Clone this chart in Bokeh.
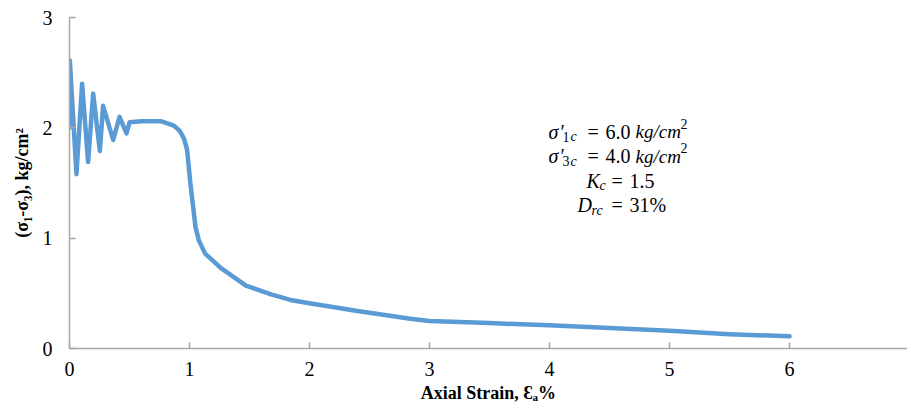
from bokeh.plotting import figure
from bokeh.models import Range1d, FixedTicker, Label, ColumnDataSource
from bokeh.embed import file_html
from bokeh.resources import INLINE

# ---- data ----
strain = [0.0, 0.003, 0.058, 0.105, 0.155, 0.197, 0.253, 0.28, 0.364, 0.417, 0.475,
          0.5, 0.6, 0.76, 0.87, 0.92, 0.955, 0.98, 1.008, 1.05, 1.078, 1.13, 1.26,
          1.47, 1.68, 1.84, 2.0, 2.4, 2.84, 3.0, 3.5, 4.0, 4.5, 5.0, 5.5, 6.0]
stress = [2.0, 2.61, 1.58, 2.40, 1.69, 2.31, 1.79, 2.20, 1.89, 2.10, 1.95,
          2.05, 2.06, 2.06, 2.02, 1.97, 1.90, 1.80, 1.49, 1.10, 0.98, 0.86, 0.73,
          0.57, 0.49, 0.44, 0.41, 0.34, 0.27, 0.25, 0.23, 0.21, 0.185, 0.16, 0.13, 0.11]
x_ticks = [0, 1, 2, 3, 4, 5, 6]
y_ticks = [0, 1, 2, 3]

FONT = "Liberation Serif"
AXIS_COLOR = "#A6A6A6"
LINE_COLOR = "#5B9BD5"

W, H = 907, 413
LEFT, TOP, BOTTOM = 69, 17, 65
X_END = (W - LEFT) / 120.0
Y_END = 3.0

p = figure(width=W, height=H, output_backend="svg", toolbar_location=None,
           x_range=Range1d(0, X_END), y_range=Range1d(0, Y_END),
           min_border_left=LEFT, min_border_right=0, min_border_top=TOP,
           min_border_bottom=BOTTOM)
p.outline_line_color = None
p.xgrid.visible = False
p.ygrid.visible = False
p.background_fill_color = "white"
p.border_fill_color = "white"

p.line(x="x", y="y", source=ColumnDataSource(dict(x=strain, y=stress)),
       line_color=LINE_COLOR, line_width=4.5, line_join="round", line_cap="round")

for ax, ticks in ((p.xaxis[0], x_ticks), (p.yaxis[0], y_ticks)):
    ax.ticker = FixedTicker(ticks=ticks)
    ax.axis_line_color = AXIS_COLOR
    ax.axis_line_width = 1.5
    ax.major_tick_line_color = AXIS_COLOR
    ax.major_tick_line_width = 1.5
    ax.major_tick_in = 6
    ax.major_tick_out = 0
    ax.minor_tick_line_color = None
    ax.major_label_text_font = FONT
    ax.major_label_text_font_size = "20px"
    ax.major_label_text_color = "black"
    ax.axis_label_text_font = FONT
    ax.axis_label_text_font_size = "18px"
    ax.axis_label_text_font_style = "bold"
    ax.axis_label_text_color = "black"

p.xaxis.axis_label = "Axial Strain, Ɛₐ%"
p.yaxis.axis_label = "(σ₁-σ₃), kg/cm²"
p.xaxis.major_label_standoff = 13
p.xaxis.axis_label_standoff = 4
p.yaxis.major_label_standoff = 17
p.yaxis.axis_label_standoff = 8

# helper: pixel position in the frame -> data coordinates
fh = H - TOP - BOTTOM
def dx(px):
    return (px - LEFT) / 120.0
def dy(py):
    return (H - BOTTOM - py) / fh * Y_END

# the cut-off "7" tick label at the right edge
p.add_layout(Label(x=7, y=dy(362), text="7", text_align="center", text_baseline="top",
                   text_font=FONT, text_font_size="20px", text_color="black"))

# annotation block (pieces: text, px, baseline_py, size, italic)
pieces = []
for base, sub, num in ((131, "1", "6.0"), (155.5, "3", "4.0")):
    pieces += [
        ("σ", 548, base, 20, True),
        ("′", 560, base, 20, False),
        (sub, 562, base + 5, 14, False),
        ("c", 570, base + 5, 14, True),
        ("=", 587, base, 20, False),
        (num, 605, base, 20, False),
        ("kg/cm", 635, base, 19, True),
        ("2", 680, base - 8, 14, False),
    ]
b3, b4 = 180, 204.5
pieces += [
    ("K", 586, b3, 20, True),
    ("c", 599, b3 + 5, 14, True),
    ("=", 611, b3, 20, False),
    ("1.5", 629, b3, 20, False),
    ("D", 577, b4, 20, True),
    ("rc", 591, b4 + 5, 14, True),
    ("=", 611, b4, 20, False),
    ("31%", 629, b4, 20, False),
]
for txt, px, py, size, italic in pieces:
    p.add_layout(Label(x=dx(px), y=dy(py), text=txt, text_align="left",
                       text_baseline="alphabetic", text_font=FONT,
                       text_font_size=f"{size}px",
                       text_font_style="italic" if italic else "normal",
                       text_color="black"))

open("out.html", "w").write(file_html(p, INLINE))
